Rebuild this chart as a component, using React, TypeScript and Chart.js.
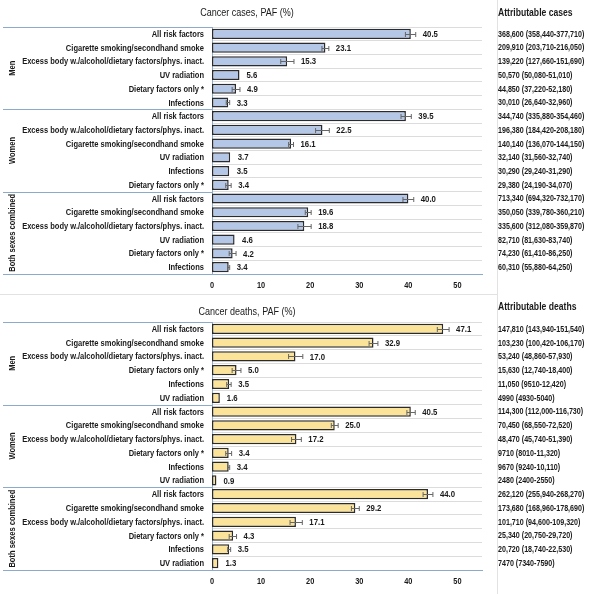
import React, { useEffect, useRef } from "react";
import { Chart, registerables } from "chart.js";

Chart.register(...registerables);

// ---------- DATA ----------
const groups = ["Men", "Women", "Both sexes combined"];

const casesLabels = [
  "All risk factors",
  "Cigarette smoking/secondhand smoke",
  "Excess body w./alcohol/dietary factors/phys. inact.",
  "UV radiation",
  "Dietary factors only *",
  "Infections",
  "All risk factors",
  "Excess body w./alcohol/dietary factors/phys. inact.",
  "Cigarette smoking/secondhand smoke",
  "UV radiation",
  "Infections",
  "Dietary factors only *",
  "All risk factors",
  "Cigarette smoking/secondhand smoke",
  "Excess body w./alcohol/dietary factors/phys. inact.",
  "UV radiation",
  "Dietary factors only *",
  "Infections",
];
const casesPAF = [40.5, 23.1, 15.3, 5.6, 4.9, 3.3, 39.5, 22.5, 16.1, 3.7, 3.5, 3.4, 40.0, 19.6, 18.8, 4.6, 4.2, 3.4];
const casesLow = [39.4, 22.4, 14.0, 5.5, 4.1, 2.9, 38.5, 21.1, 15.6, 3.6, 3.4, 2.8, 38.9, 19.0, 17.5, 4.5, 3.5, 3.2];
const casesHigh = [41.5, 23.8, 16.7, 5.6, 5.7, 3.6, 40.6, 23.9, 16.6, 3.8, 3.6, 3.9, 41.1, 20.2, 20.2, 4.7, 4.9, 3.6];
const casesCounts = [
  "368,600 (358,440-377,710)",
  "209,910 (203,710-216,050)",
  "139,220 (127,660-151,690)",
  "50,570 (50,080-51,010)",
  "44,850 (37,220-52,180)",
  "30,010 (26,640-32,960)",
  "344,740 (335,880-354,460)",
  "196,380 (184,420-208,180)",
  "140,140 (136,070-144,150)",
  "32,140 (31,560-32,740)",
  "30,290 (29,240-31,290)",
  "29,380 (24,190-34,070)",
  "713,340 (694,320-732,170)",
  "350,050 (339,780-360,210)",
  "335,600 (312,080-359,870)",
  "82,710 (81,630-83,740)",
  "74,230 (61,410-86,250)",
  "60,310 (55,880-64,250)",
];

const deathsLabels = [
  "All risk factors",
  "Cigarette smoking/secondhand smoke",
  "Excess body w./alcohol/dietary factors/phys. inact.",
  "Dietary factors only *",
  "Infections",
  "UV radiation",
  "All risk factors",
  "Cigarette smoking/secondhand smoke",
  "Excess body w./alcohol/dietary factors/phys. inact.",
  "Dietary factors only *",
  "Infections",
  "UV radiation",
  "All risk factors",
  "Cigarette smoking/secondhand smoke",
  "Excess body w./alcohol/dietary factors/phys. inact.",
  "Dietary factors only *",
  "Infections",
  "UV radiation",
];
const deathsPAF = [47.1, 32.9, 17.0, 5.0, 3.5, 1.6, 40.5, 25.0, 17.2, 3.4, 3.4, 0.9, 44.0, 29.2, 17.1, 4.3, 3.5, 1.3];
const deathsLow = [45.9, 32.0, 15.6, 4.1, 3.0, 1.6, 39.7, 24.3, 16.2, 2.8, 3.2, 0.9, 43.0, 28.4, 15.9, 3.5, 3.2, 1.3];
const deathsHigh = [48.3, 33.8, 18.5, 5.9, 3.9, 1.6, 41.4, 25.7, 18.2, 4.0, 3.6, 0.9, 45.0, 30.0, 18.4, 5.0, 3.8, 1.3];
const deathsCounts = [
  "147,810 (143,940-151,540)",
  "103,230 (100,420-106,170)",
  "53,240 (48,860-57,930)",
  "15,630 (12,740-18,400)",
  "11,050 (9510-12,420)",
  "4990 (4930-5040)",
  "114,300 (112,000-116,730)",
  "70,450 (68,550-72,520)",
  "48,470 (45,740-51,390)",
  "9710 (8010-11,320)",
  "9670 (9240-10,110)",
  "2480 (2400-2550)",
  "262,120 (255,940-268,270)",
  "173,680 (168,960-178,690)",
  "101,710 (94,600-109,320)",
  "25,340 (20,750-29,720)",
  "20,720 (18,740-22,530)",
  "7470 (7340-7590)",
];

const xTicks = [0, 10, 20, 30, 40, 50];
const xMax = 55;

// ---------- STYLE ----------
const SANS = "'Liberation Sans', Arial, sans-serif";
const NARROW_SCALE = 0.82; // emulate Arial Narrow
const W = 600;
const H = 297;
const TEXT = "#1a1a1a";

type Panel = {
  title: string;
  rightHeader: string;
  labels: string[];
  values: number[];
  low: number[];
  high: number[];
  counts: string[];
  fill: string;
  padTop: number;
  xAxisH: number;
  titleY: number;
  headerY: number;
  bottomSep: boolean;
};

const panels: Panel[] = [
  {
    title: "Cancer cases, PAF (%)",
    rightHeader: "Attributable cases",
    labels: casesLabels,
    values: casesPAF,
    low: casesLow,
    high: casesHigh,
    counts: casesCounts,
    fill: "#b4c7e7",
    padTop: 27,
    xAxisH: 23,
    titleY: 13,
    headerY: 13,
    bottomSep: true,
  },
  {
    title: "Cancer deaths, PAF (%)",
    rightHeader: "Attributable deaths",
    labels: deathsLabels,
    values: deathsPAF,
    low: deathsLow,
    high: deathsHigh,
    counts: deathsCounts,
    fill: "#fbe39a",
    padTop: 25,
    xAxisH: 24,
    titleY: 15,
    headerY: 10,
    bottomSep: false,
  },
];

function narrowText(
  ctx: CanvasRenderingContext2D,
  text: string,
  x: number,
  y: number,
  font: string,
  align: CanvasTextAlign,
  rotate = 0
) {
  ctx.save();
  ctx.translate(x, y);
  if (rotate) ctx.rotate(rotate);
  ctx.scale(NARROW_SCALE, 1);
  ctx.font = font;
  ctx.textAlign = align;
  ctx.textBaseline = "middle";
  ctx.fillStyle = TEXT;
  ctx.fillText(text, 0, 0);
  ctx.restore();
}

function PanelChart({ p }: { p: Panel }) {
  const ref = useRef<HTMLCanvasElement | null>(null);
  useEffect(() => {
    if (!ref.current) return;
    const overlay = {
      id: "overlay",
      afterDatasetsDraw(chart: any) {
        const ctx = chart.ctx as CanvasRenderingContext2D;
        const xs = chart.scales.x;
        const ys = chart.scales.y;
        const area = chart.chartArea;
        const meta = chart.getDatasetMeta(0);
        ctx.save();
        // error bars
        ctx.strokeStyle = "#666";
        ctx.lineWidth = 1;
        meta.data.forEach((bar: any, i: number) => {
          const y = Math.round(bar.y) + 0.5;
          const x1 = xs.getPixelForValue(p.low[i]);
          const x2 = xs.getPixelForValue(p.high[i]);
          if (x2 - x1 < 1) return;
          ctx.beginPath();
          ctx.moveTo(x1, y);
          ctx.lineTo(x2, y);
          ctx.moveTo(x1, y - 2.5);
          ctx.lineTo(x1, y + 2.5);
          ctx.moveTo(x2, y - 2.5);
          ctx.lineTo(x2, y + 2.5);
          ctx.stroke();
        });
        // value labels, category labels, counts
        meta.data.forEach((bar: any, i: number) => {
          const xe = xs.getPixelForValue(Math.max(p.values[i], p.high[i]));
          narrowText(ctx, p.values[i].toFixed(1), xe + 7, bar.y + 0.5, `bold 9.5px ${SANS}`, "left");
          narrowText(ctx, String(ys.getLabelForValue(i)), area.left - 8, ys.getPixelForValue(i) + 0.5, `bold 9.2px ${SANS}`, "right");
          narrowText(ctx, p.counts[i], 498, bar.y + 0.5, `bold 8.7px ${SANS}`, "left");
        });
        // x tick labels
        xs.ticks.forEach((t: any) => {
          narrowText(ctx, String(t.value), xs.getPixelForValue(t.value), area.bottom + 12, `bold 9px ${SANS}`, "center");
        });
        // headers
        narrowText(ctx, p.rightHeader, 498, p.headerY, `bold 10.5px ${SANS}`, "left");
        narrowText(ctx, p.title, 247, p.titleY, `11px ${SANS}`, "center");

        // group dividers in label area + group labels
        const n = p.labels.length;
        const per = n / groups.length;
        const half = (ys.getPixelForValue(1) - ys.getPixelForValue(0)) / 2;
        ctx.strokeStyle = "#8eaacb";
        ctx.lineWidth = 1;
        for (let g = 0; g <= groups.length; g++) {
          const yb = g === groups.length
            ? ys.getPixelForValue(n - 1) + half
            : ys.getPixelForValue(g * per) - half;
          ctx.beginPath();
          ctx.moveTo(3, Math.round(yb) + 0.5);
          ctx.lineTo(area.left, Math.round(yb) + 0.5);
          ctx.stroke();
        }
        groups.forEach((g, gi) => {
          const yc = (ys.getPixelForValue(gi * per) + ys.getPixelForValue(gi * per + per - 1)) / 2;
          narrowText(ctx, g, 12, yc, `bold 9.2px ${SANS}`, "center", -Math.PI / 2);
        });

        // separators
        ctx.strokeStyle = "#e2e2e2";
        ctx.beginPath();
        ctx.moveTo(497.5, 0);
        ctx.lineTo(497.5, chart.height);
        ctx.stroke();
        if (p.bottomSep) {
          ctx.beginPath();
          ctx.moveTo(0, chart.height - 2.5);
          ctx.lineTo(497, chart.height - 2.5);
          ctx.stroke();
        }
        ctx.restore();
      },
    };

    const chart = new Chart(ref.current, {
      type: "bar",
      data: {
        labels: p.labels,
        datasets: [
          {
            data: p.values,
            backgroundColor: p.fill,
            borderColor: "#2b2b2b",
            borderWidth: 1.5,
            borderSkipped: false,
            barPercentage: 0.74,
            categoryPercentage: 1,
          },
        ],
      },
      options: {
        indexAxis: "y",
        animation: false,
        responsive: false,
        events: [],
        layout: { padding: { top: p.padTop, right: W - 482, left: 0, bottom: 0 } },
        plugins: { legend: { display: false }, tooltip: { enabled: false }, title: { display: false } },
        scales: {
          x: {
            min: 0,
            max: xMax,
            afterBuildTicks: (s: any) => {
              s.ticks = xTicks.map((v) => ({ value: v }));
            },
            afterFit: (s: any) => {
              s.height = p.xAxisH;
            },
            grid: { display: false, drawTicks: false },
            border: { display: true, color: "#8eaacb", width: 1 },
            ticks: { display: false },
          },
          y: {
            afterFit: (s: any) => {
              s.width = 212;
            },
            grid: { offset: true, color: "#dcdcdc", drawTicks: false, lineWidth: 1 },
            border: { display: true, color: "#8eaacb", width: 1 },
            ticks: { display: false, autoSkip: false },
          },
        },
      } as any,
      plugins: [overlay],
    });
    return () => chart.destroy();
  }, [p]);
  return <canvas ref={ref} width={W} height={H} style={{ display: "block", width: W, height: H }} />;
}

export default function App() {
  return (
    <div style={{ position: "absolute", left: 0, top: 0, width: W, height: 594, background: "#fff" }}>
      {panels.map((p, i) => (
        <PanelChart key={i} p={p} />
      ))}
    </div>
  );
}
